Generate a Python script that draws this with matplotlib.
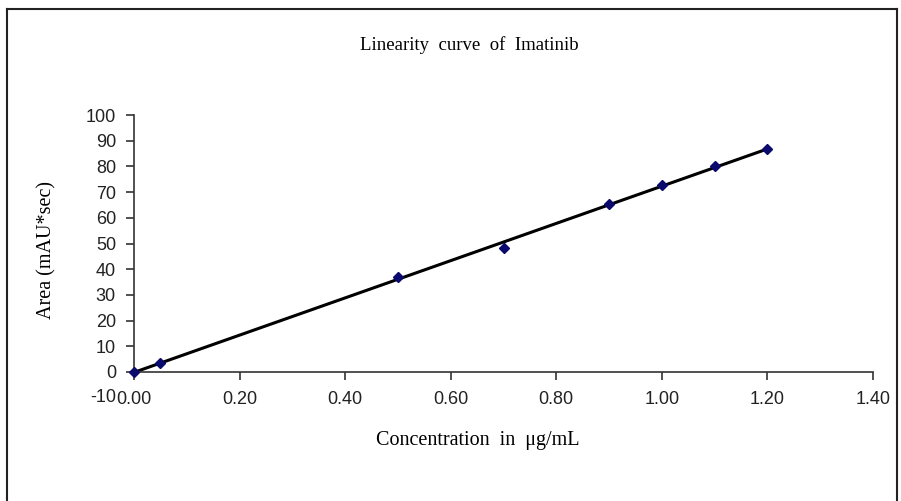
import numpy as np
import matplotlib
matplotlib.use("Agg")
import matplotlib.pyplot as plt
from matplotlib.lines import Line2D

conc = [0.0, 0.05, 0.5, 0.7, 0.9, 1.0, 1.1, 1.2]
area = [0.0, 3.6, 36.9, 48.4, 65.2, 72.8, 80.0, 86.8]
x_ticks = [0.0, 0.2, 0.4, 0.6, 0.8, 1.0, 1.2, 1.4]
y_ticks = list(range(0, 101, 10))

serif = "Liberation Serif"
sans = "Liberation Sans"

fig = plt.figure(figsize=(9.01, 5.01), dpi=100)
ax = fig.add_axes([134 / 901, 1 - 372 / 501, (873 - 134) / 901, (372 - 115) / 501])

# linear trendline, like Excel
slope, icpt = np.polyfit(conc, area, 1)
xs = np.array([0.0, max(conc)])
ax.plot(xs, slope * xs + icpt, color="black", lw=2.2, zorder=2, clip_on=False)
ax.plot(conc, area, linestyle="none", marker="D", ms=5, color="#0a0a6e",
        zorder=3, clip_on=False)

ax.set_xlim(0, 1.4)
ax.set_ylim(0, 100)
ax.set_xticks(x_ticks)
ax.set_xticklabels([f"{v:.2f}" for v in x_ticks])
ax.set_yticks(y_ticks)
for s in ["top", "right"]:
    ax.spines[s].set_visible(False)
for s in ["left", "bottom"]:
    ax.spines[s].set_color("#333333")
    ax.spines[s].set_linewidth(1.2)
ax.tick_params(axis="both", direction="out", length=6, width=1.2, color="#333333",
               labelsize=13, labelcolor="#222222")
ax.tick_params(axis="y", pad=7)
ax.tick_params(axis="x", pad=8)
for lab in ax.get_xticklabels() + ax.get_yticklabels():
    lab.set_family(sans)

# Excel leftover -10 label squeezed under the axis corner
fig.text(116 / 901, 1 - 397 / 501, "-10", ha="right", va="center",
         fontsize=13, color="#222222", family=sans)

fig.text(469 / 901, 1 - 45 / 501, "Linearity  curve  of  Imatinib", ha="center",
         va="center", fontsize=13.5, family=serif)
fig.text(478 / 901, 1 - 440 / 501, "Concentration  in  μg/mL", ha="center",
         va="center", fontsize=14.5, family=serif)
fig.text(47 / 901, 1 - 250 / 501, "Area (mAU*sec)", ha="center", va="center",
         rotation=90, fontsize=14.5, family=serif)

# chart frame
x0, x1, yt = 7 / 901, 897 / 901, 1 - 9 / 501
for xd, yd in [([x0, x0], [0, yt]), ([x0, x1], [yt, yt]), ([x1, x1], [yt, 0])]:
    fig.add_artist(Line2D(xd, yd, color="#222222", lw=1.5, transform=fig.transFigure))

fig.savefig("out.png", dpi=100)
